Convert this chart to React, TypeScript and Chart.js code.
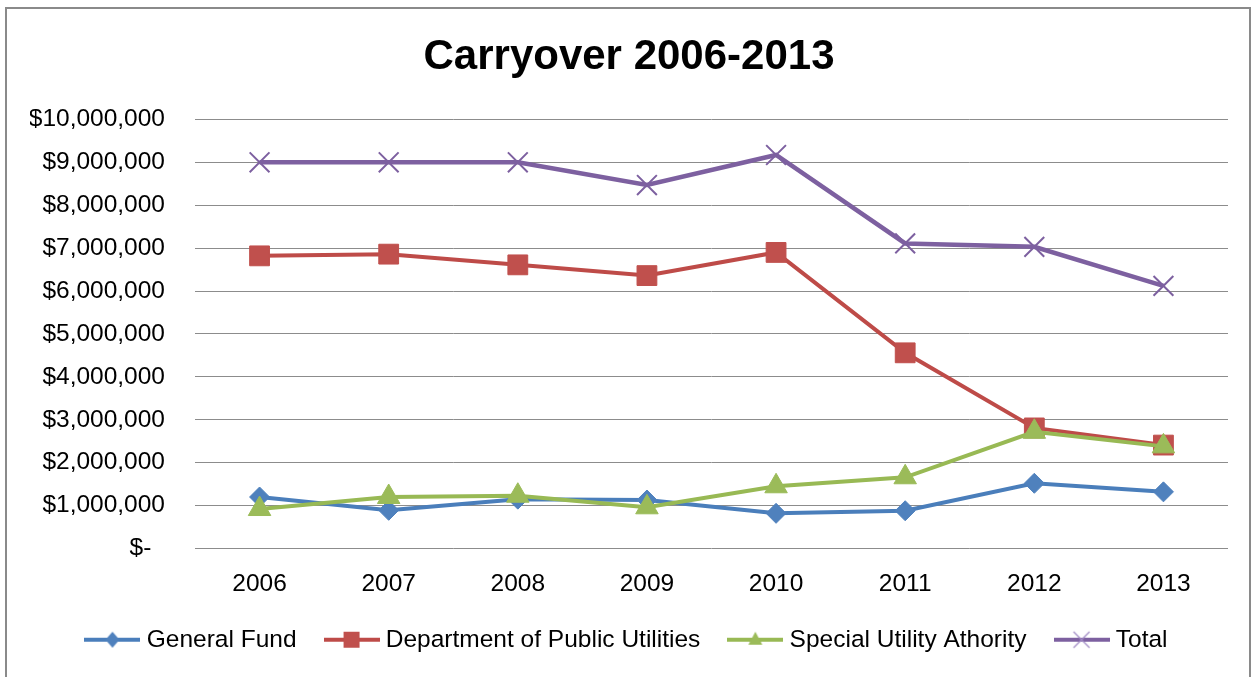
import React, { useEffect, useRef } from 'react';
import { Chart, registerables } from 'chart.js';

Chart.register(...registerables);

const years = ['2006', '2007', '2008', '2009', '2010', '2011', '2012', '2013'];
const generalFund = [1200000, 890000, 1150000, 1130000, 820000, 880000, 1520000, 1320000];
const publicUtilities = [6820000, 6860000, 6610000, 6360000, 6900000, 4560000, 2810000, 2410000];
const specialUtility = [920000, 1200000, 1230000, 960000, 1450000, 1660000, 2720000, 2380000];
const total = [9000000, 9000000, 9000000, 8470000, 9170000, 7110000, 7030000, 6120000];
const seriesNames = ['General Fund', 'Department of Public Utilities', 'Special Utility Athority', 'Total'];
const titleText = 'Carryover 2006-2013';

const FONT = '"Liberation Sans", Arial, sans-serif';

type Kind = 'diamond' | 'square' | 'triangle' | 'cross';

function makeIcon(kind: Kind, lineColor: string, markerColor: string): HTMLCanvasElement {
  const c = document.createElement('canvas');
  c.width = 56;
  c.height = 24;
  const ctx = c.getContext('2d')!;
  ctx.strokeStyle = lineColor;
  ctx.lineWidth = 4;
  ctx.beginPath();
  ctx.moveTo(0, 12);
  ctx.lineTo(56, 12);
  ctx.stroke();
  ctx.fillStyle = markerColor;
  const cx = 28;
  const cy = 12;
  if (kind === 'diamond') {
    ctx.beginPath();
    ctx.moveTo(cx, cy - 8);
    ctx.lineTo(cx + 7, cy);
    ctx.lineTo(cx, cy + 8);
    ctx.lineTo(cx - 7, cy);
    ctx.closePath();
    ctx.fill();
  } else if (kind === 'square') {
    ctx.fillRect(cx - 8, cy - 8, 16, 16);
  } else if (kind === 'triangle') {
    ctx.beginPath();
    ctx.moveTo(cx, cy - 8);
    ctx.lineTo(cx + 7, cy + 5);
    ctx.lineTo(cx - 7, cy + 5);
    ctx.closePath();
    ctx.fill();
  } else {
    ctx.strokeStyle = '#a08ac4';
    ctx.lineWidth = 1.2;
    ctx.beginPath();
    ctx.moveTo(cx - 8, cy - 8);
    ctx.lineTo(cx + 8, cy + 8);
    ctx.moveTo(cx + 8, cy - 8);
    ctx.lineTo(cx - 8, cy + 8);
    ctx.stroke();
  }
  return c;
}

export default function App() {
  const ref = useRef<HTMLCanvasElement | null>(null);

  useEffect(() => {
    if (!ref.current) return;
    const styles = [
      { data: generalFund, line: '#4a7ebb', marker: '#4f81bd', kind: 'diamond' as Kind, ps: 'rectRot', r: 10, order: 4 },
      { data: publicUtilities, line: '#be4b48', marker: '#c0504d', kind: 'square' as Kind, ps: 'rect', r: 14, order: 3 },
      { data: specialUtility, line: '#98b954', marker: '#9bbb59', kind: 'triangle' as Kind, ps: 'triangle', r: 13, order: 2 },
      { data: total, line: '#7d60a0', marker: '#7d60a0', kind: 'cross' as Kind, ps: 'crossRot', r: 14, order: 1 },
    ];
    const icons = styles.map((s) => makeIcon(s.kind, s.line, s.marker));

    const chart = new Chart(ref.current, {
      type: 'line',
      data: {
        labels: years,
        datasets: styles.map((s, i) => ({
          label: seriesNames[i],
          data: s.data,
          borderColor: s.line,
          backgroundColor: s.marker,
          borderWidth: i === 3 ? 4.5 : 4,
          tension: 0,
          pointStyle: s.ps as any,
          pointRadius: s.r,
          pointHoverRadius: s.r,
          pointBackgroundColor: s.marker,
          pointBorderColor: s.marker,
          pointBorderWidth: s.kind === 'cross' ? 2 : 1,
          order: s.order,
          clip: false as any,
        })),
      },
      options: {
        responsive: false,
        animation: false,
        layout: { padding: { left: 30, right: 27, top: 0, bottom: 15 } },
        plugins: {
          title: {
            display: true,
            text: titleText,
            color: '#000',
            font: { family: FONT, size: 42, weight: 'bold' },
            padding: { top: 32, bottom: 37 },
          },
          legend: {
            display: true,
            position: 'bottom',
            labels: {
              usePointStyle: true,
              pointStyleWidth: 44,
              padding: 33,
              color: '#000',
              font: { family: FONT, size: 24.5 },
              generateLabels: () =>
                styles.map((s, i) => ({
                  text: seriesNames[i],
                  fillStyle: s.marker,
                  strokeStyle: s.line,
                  lineWidth: 0,
                  pointStyle: icons[i] as any,
                  hidden: false,
                  datasetIndex: i,
                  fontColor: '#000',
                })),
            },
          },
          tooltip: { enabled: false },
        },
        scales: {
          x: {
            offset: true,
            afterFit: (scale: any) => {
              scale.height = 46;
            },
            grid: { display: false, drawTicks: false },
            border: { display: false },
            ticks: { color: '#000', padding: 21, font: { family: FONT, size: 24.5 } },
          },
          y: {
            min: 0,
            max: 10000000,
            afterFit: (scale: any) => {
              scale.width = 165;
            },
            grid: { color: '#8c8c8c', lineWidth: 1, drawTicks: false },
            border: { display: false },
            ticks: {
              stepSize: 1000000,
              color: '#000',
              padding: 30,
              font: { family: FONT, size: 24.5 },
              callback: (v: any) => (Number(v) === 0 ? '$-  ' : '$' + Number(v).toLocaleString('en-US')),
            },
          },
        },
      },
    });
    return () => chart.destroy();
  }, []);

  return (
    <>
      <div
        style={{
          position: 'fixed',
          left: 5,
          top: 7,
          width: 1246,
          height: 720,
          boxSizing: 'border-box',
          border: '2px solid #8a8a8a',
        }}
      />
      <div style={{ position: 'fixed', left: 0, top: 0, width: 1255, height: 677 }}>
        <canvas ref={ref} width={1255} height={677} />
      </div>
    </>
  );
}
